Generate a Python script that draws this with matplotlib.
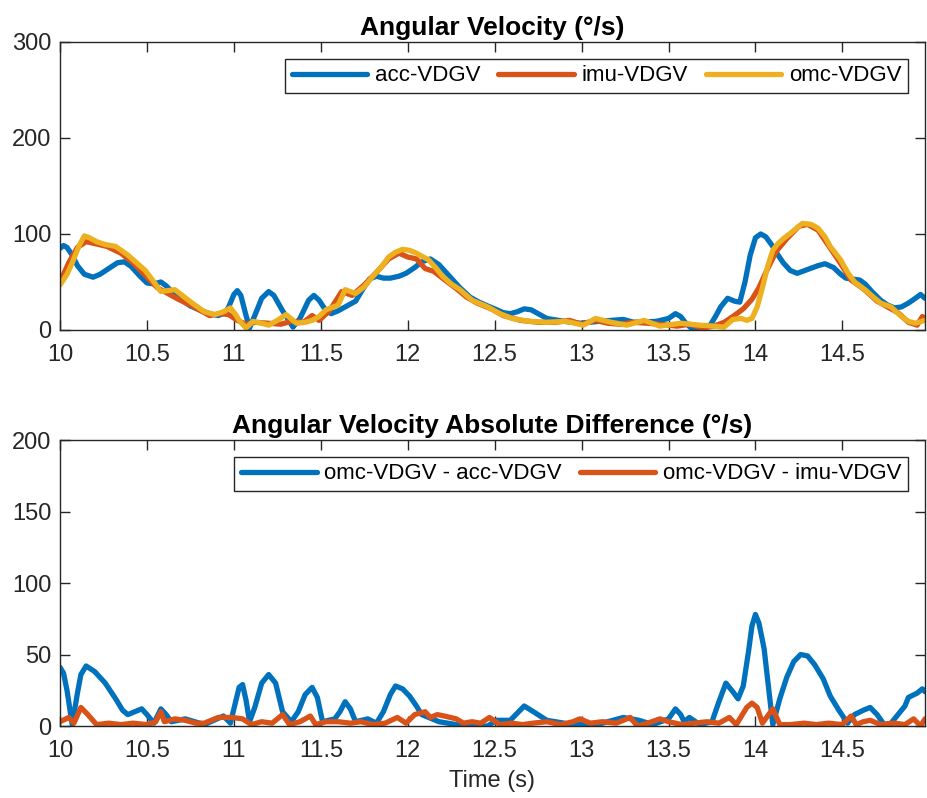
import numpy as np
import matplotlib
matplotlib.use('Agg')
import matplotlib.pyplot as plt

plt.rcParams['font.family'] = ['Liberation Sans', 'DejaVu Sans']

# --- data ---
# top panel: angular velocity (deg/s)
acc_t = [10.00, 10.02, 10.04, 10.07, 10.10, 10.14, 10.19, 10.23, 10.28, 10.33, 10.37, 10.41, 10.46,
         10.50, 10.54, 10.58, 10.61, 10.65, 10.70, 10.75, 10.80, 10.86, 10.91, 10.95, 10.97, 11.00,
         11.02, 11.04, 11.07, 11.09, 11.12, 11.16, 11.20, 11.23, 11.28, 11.34, 11.38, 11.43, 11.46,
         11.49, 11.53, 11.56, 11.60, 11.64, 11.70, 11.74, 11.78, 11.82, 11.86, 11.90, 11.95, 11.99,
         12.04, 12.08, 12.13, 12.18, 12.24, 12.30, 12.36, 12.41, 12.46, 12.50, 12.55, 12.59, 12.63,
         12.67, 12.71, 12.76, 12.80, 12.90, 12.99, 13.10, 13.24, 13.30, 13.43, 13.50, 13.54, 13.57,
         13.60, 13.63, 13.68, 13.74, 13.77, 13.80, 13.84, 13.88, 13.91, 13.94, 13.97, 14.00, 14.03,
         14.06, 14.10, 14.13, 14.16, 14.20, 14.24, 14.30, 14.36, 14.40, 14.45, 14.49, 14.52, 14.56,
         14.60, 14.63, 14.67, 14.72, 14.76, 14.80, 14.84, 14.88, 14.92, 14.95, 14.975]
acc_v = [85, 88, 86, 78, 67, 58, 55, 58, 64, 70, 71, 66, 56,
         49, 48, 50, 46, 39, 31, 25, 21, 17, 15, 18, 24, 37,
         41, 36, 15, 2, 15, 33, 40, 36, 20, 3, 12, 31, 36,
         31, 20, 17, 20, 24, 30, 42, 53, 56, 54, 54, 56, 59,
         65, 71, 74, 68, 56, 44, 34, 29, 25, 22, 18, 17, 19,
         22, 21, 16, 12, 9, 7, 9, 11, 8, 9, 12, 17, 14,
         7, 2, 3, 5, 14, 24, 33, 30, 29, 50, 78, 96, 100,
         97, 87, 78, 70, 62, 59, 63, 67, 69, 65, 58, 54, 53,
         52, 48, 40, 31, 26, 23, 24, 28, 33, 37, 33]

imu_t = [10.00, 10.05, 10.10, 10.15, 10.20, 10.27, 10.35, 10.42, 10.50, 10.56, 10.62, 10.68, 10.75,
         10.81, 10.86, 10.92, 10.97, 11.02, 11.07, 11.12, 11.20, 11.27, 11.33, 11.40, 11.45, 11.49,
         11.55, 11.62, 11.68, 11.75, 11.82, 11.89, 11.95, 12.00, 12.05, 12.10, 12.15, 12.20, 12.28,
         12.34, 12.40, 12.48, 12.55, 12.65, 12.75, 12.85, 12.93, 13.00, 13.08, 13.15, 13.22, 13.30,
         13.38, 13.45, 13.55, 13.62, 13.70, 13.76, 13.82, 13.87, 13.93, 13.98, 14.02, 14.06, 14.12,
         14.18, 14.25, 14.30, 14.36, 14.42, 14.48, 14.55, 14.62, 14.70, 14.76, 14.82, 14.88, 14.93,
         14.96, 14.975]
imu_v = [50, 70, 86, 92, 90, 87, 80, 70, 55, 44, 38, 32, 26,
         20, 15, 17, 16, 10, 6, 8, 7, 6, 9, 8, 15, 10,
         20, 40, 36, 47, 60, 74, 80, 76, 74, 64, 61, 54, 43,
         34, 28, 22, 15, 10, 8, 8, 10, 6, 10, 7, 6, 8,
         7, 6, 4, 6, 2, 4, 8, 14, 22, 32, 44, 60, 82,
         95, 108, 110, 104, 88, 72, 52, 43, 30, 24, 18, 8, 5,
         14, 12]

omc_t = [10.00, 10.04, 10.07, 10.11, 10.14, 10.17, 10.21, 10.26, 10.32, 10.39, 10.44, 10.49, 10.54,
         10.58, 10.62, 10.66, 10.71, 10.76, 10.83, 10.89, 10.94, 10.98, 11.01, 11.03, 11.07, 11.11,
         11.16, 11.20, 11.25, 11.30, 11.36, 11.41, 11.45, 11.49, 11.53, 11.60, 11.64, 11.70, 11.75,
         11.80, 11.85, 11.89, 11.93, 11.97, 12.01, 12.05, 12.12, 12.16, 12.20, 12.25, 12.30, 12.37,
         12.46, 12.53, 12.60, 12.70, 12.80, 12.91, 13.01, 13.08, 13.17, 13.26, 13.36, 13.45, 13.57,
         13.68, 13.76, 13.82, 13.87, 13.92, 13.95, 13.98, 14.01, 14.04, 14.07, 14.10, 14.13, 14.16,
         14.21, 14.27, 14.32, 14.36, 14.40, 14.43, 14.49, 14.53, 14.57, 14.63, 14.68, 14.72, 14.78,
         14.84, 14.88, 14.92, 14.975]
omc_v = [47, 58, 70, 88, 98, 96, 92, 89, 87, 78, 70, 62, 50,
         40, 41, 42, 35, 28, 19, 16, 19, 23, 16, 10, 2, 9,
         7, 5, 10, 16, 7, 8, 10, 14, 21, 26, 42, 38, 45,
         56, 66, 76, 81, 84, 83, 80, 73, 65, 56, 48, 42, 31,
         24, 17, 12, 9, 8, 9, 5, 12, 8, 5, 10, 4, 7,
         5, 4, 3, 11, 12, 10, 12, 24, 44, 66, 83, 90, 95,
         102, 111, 110, 106, 97, 87, 73, 60, 50, 42, 34, 28, 24,
         14, 9, 7, 10]

# bottom panel: absolute differences (deg/s)
dacc_t = [10.00, 10.02, 10.04, 10.07, 10.10, 10.12, 10.15, 10.20, 10.26, 10.32, 10.36, 10.39, 10.43,
          10.47, 10.50, 10.54, 10.58, 10.61, 10.64, 10.72, 10.83, 10.94, 10.98, 11.01, 11.03, 11.05,
          11.07, 11.09, 11.12, 11.16, 11.20, 11.24, 11.28, 11.33, 11.37, 11.41, 11.45, 11.48, 11.51,
          11.58, 11.61, 11.64, 11.67, 11.70, 11.77, 11.82, 11.86, 11.90, 11.93, 11.97, 12.01, 12.05,
          12.08, 12.18, 12.28, 12.37, 12.46, 12.51, 12.59, 12.63, 12.67, 12.71, 12.80, 12.95, 13.09,
          13.24, 13.33, 13.41, 13.50, 13.54, 13.57, 13.59, 13.62, 13.68, 13.75, 13.79, 13.83, 13.87,
          13.90, 13.93, 13.96, 13.98, 14.00, 14.02, 14.05, 14.08, 14.10, 14.14, 14.18, 14.22, 14.26,
          14.30, 14.34, 14.39, 14.43, 14.48, 14.53, 14.57, 14.62, 14.66, 14.70, 14.74, 14.78, 14.82,
          14.86, 14.88, 14.93, 14.96, 14.975]
dacc_v = [41, 37, 25, 1, 23, 36, 42, 38, 30, 19, 11, 8, 10,
          12, 8, 2, 12, 8, 3, 5, 1, 7, 2, 17, 27, 29,
          18, 3, 13, 30, 36, 30, 10, 3, 10, 22, 27, 20, 3,
          5, 10, 17, 12, 3, 5, 2, 10, 22, 28, 26, 21, 14,
          8, 3, 1, 0, 0, 4, 4, 9, 14, 11, 4, 1, 1,
          6, 4, 1, 5, 12, 8, 3, 6, 1, 3, 17, 30, 24,
          19, 28, 52, 70, 78, 72, 54, 22, 1, 19, 34, 45, 50,
          49, 43, 33, 21, 11, 2, 8, 11, 13, 8, 1, 2, 8,
          14, 20, 23, 26, 24]

dimu_t = [10.00, 10.05, 10.08, 10.12, 10.16, 10.21, 10.28, 10.35, 10.42, 10.50, 10.55, 10.58, 10.60,
          10.66, 10.72, 10.78, 10.83, 10.91, 10.99, 11.05, 11.10, 11.16, 11.22, 11.28, 11.32, 11.38,
          11.44, 11.47, 11.53, 11.60, 11.67, 11.73, 11.80, 11.87, 11.94, 11.99, 12.04, 12.10, 12.13,
          12.17, 12.21, 12.28, 12.32, 12.37, 12.42, 12.47, 12.53, 12.60, 12.66, 12.72, 12.80, 12.88,
          12.95, 12.99, 13.05, 13.12, 13.20, 13.28, 13.32, 13.38, 13.45, 13.50, 13.58, 13.65, 13.72,
          13.79, 13.85, 13.89, 13.95, 13.98, 14.01, 14.04, 14.10, 14.14, 14.20, 14.28, 14.35, 14.42,
          14.50, 14.55, 14.58, 14.62, 14.66, 14.72, 14.80, 14.86, 14.91, 14.95, 14.975]
dimu_v = [3, 6, 2, 13, 8, 1, 2, 1, 2, 1, 3, 10, 3,
          5, 4, 2, 2, 6, 6, 5, 1, 3, 2, 8, 1, 3,
          7, 1, 3, 3, 2, 3, 1, 2, 6, 2, 8, 10, 6,
          8, 7, 5, 2, 3, 2, 6, 1, 2, 1, 2, 3, 1,
          3, 5, 2, 3, 2, 6, 0, 2, 5, 3, 1, 2, 3,
          2, 6, 1, 13, 16, 13, 2, 12, 1, 1, 2, 1, 2,
          1, 7, 1, 3, 4, 1, 2, 1, 5, 0, 5]

xticks = [10, 10.5, 11, 11.5, 12, 12.5, 13, 13.5, 14, 14.5]
xticklabels = ['10', '10.5', '11', '11.5', '12', '12.5', '13', '13.5', '14', '14.5']

c_blue = '#0072BD'
c_orange = '#D95319'
c_yellow = '#EDB120'
ax_col = '#262626'
lw = 3.8
fs = 17
fs_title = 19
fs_leg = 16


def style_axes(ax, ymax, ystep):
    ax.set_xlim(10, 14.975)
    ax.set_ylim(0, ymax)
    ax.set_xticks(xticks)
    ax.set_xticklabels(xticklabels)
    ax.set_yticks(np.arange(0, ymax + 1, ystep))
    ax.tick_params(direction='in', length=7, width=1, top=True, right=True,
                   labelsize=fs, colors=ax_col)
    ax.tick_params(axis='x', pad=10)
    ax.tick_params(axis='y', pad=6)
    for s in ax.spines.values():
        s.set_color(ax_col)
        s.set_linewidth(1)


def add_legend(ax, ncol):
    leg = ax.legend(loc='upper right', ncol=ncol, fontsize=fs_leg, handlelength=3.4,
                    columnspacing=0.8, handletextpad=0.35, borderaxespad=0.75,
                    fancybox=False, edgecolor=ax_col, framealpha=1,
                    borderpad=0.3)
    leg.get_frame().set_linewidth(1)
    return leg


fig = plt.figure(figsize=(9.28, 7.98), dpi=100)
ax1 = fig.add_axes([0.0647, 0.5865, 0.932, 0.3609])
ax2 = fig.add_axes([0.0647, 0.0902, 0.932, 0.3584])

kw = dict(lw=lw, solid_joinstyle='round', solid_capstyle='round')
ax1.plot(acc_t, acc_v, color=c_blue, label='acc-VDGV', **kw)
ax1.plot(imu_t, imu_v, color=c_orange, label='imu-VDGV', **kw)
ax1.plot(omc_t, omc_v, color=c_yellow, label='omc-VDGV', **kw)
style_axes(ax1, 300, 100)
ax1.set_title('Angular Velocity (°/s)', fontsize=fs_title, fontweight='bold', pad=5)
add_legend(ax1, 3)

ax2.plot(dacc_t, dacc_v, color=c_blue, label='omc-VDGV - acc-VDGV', **kw)
ax2.plot(dimu_t, dimu_v, color=c_orange, label='omc-VDGV - imu-VDGV', **kw)
style_axes(ax2, 200, 50)
ax2.set_title('Angular Velocity Absolute Difference (°/s)', fontsize=fs_title,
              fontweight='bold', pad=5)
ax2.set_xlabel('Time (s)', fontsize=fs, color=ax_col, labelpad=6)
add_legend(ax2, 2)

fig.savefig('out.png', dpi=100)
